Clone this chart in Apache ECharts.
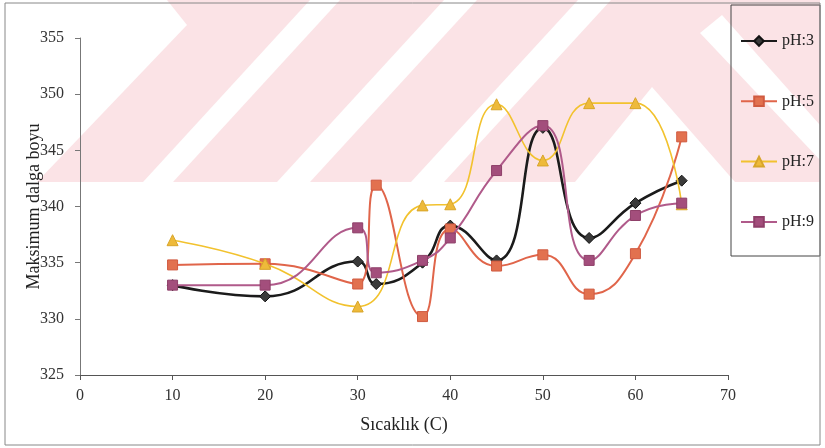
<!DOCTYPE html>
<html>
<head>
<meta charset="utf-8">
<script src="https://cdn.jsdelivr.net/npm/echarts@6/dist/echarts.min.js"></script>
<style>
  html, body { margin: 0; padding: 0; background: #ffffff; }
  #chart { width: 825px; height: 448px; }
</style>
</head>
<body>
<div id="chart"></div>
<script>
// ---- data ----
var temperatures = [10, 20, 30, 32, 37, 40, 45, 50, 55, 60, 65];
var seriesNames = ['pH:3', 'pH:5', 'pH:7', 'pH:9'];
var pH3 = [333.0, 332.0, 335.1, 333.1, 335.0, 338.3, 335.2, 347.0, 337.2, 340.3, 342.3];
var pH5 = [334.8, 334.9, 333.1, 341.9, 330.2, 338.0, 334.7, 335.7, 332.2, 335.8, 346.2];
var pH7 = [337.0, 334.9, 331.1, null, 340.1, 340.2, 349.1, 344.1, 349.2, 349.2, 340.2];
var pH9 = [333.0, 333.0, 338.1, 334.1, 335.2, 337.2, 343.2, 347.2, 335.2, 339.2, 340.3];
var xTicks = [0, 10, 20, 30, 40, 50, 60, 70];
var yTicks = [325, 330, 335, 340, 345, 350, 355];

function pairs(xs, ys) {
  return xs.map(function (x, i) { return [x, ys[i]]; });
}

var FONT = '"Liberation Serif", "DejaVu Serif", serif';
var PINK = '#fbe3e6';

// background watermark (decorative)
var wm = [
  { type: 'rect', shape: { x: 37, y: 0, width: 783, height: 182 }, style: { fill: PINK } },
  { type: 'polygon', shape: { points: [[30, 0], [167, 0], [187, 25], [37, 182], [30, 182]] }, style: { fill: '#fff' } },
  { type: 'polygon', shape: { points: [[310, 0], [340, 0], [173, 182], [143, 182]] }, style: { fill: '#fff' } },
  { type: 'polygon', shape: { points: [[444, 0], [477, 0], [310, 182], [277, 182]] }, style: { fill: '#fff' } },
  { type: 'polygon', shape: { points: [[578, 0], [611, 0], [444, 182], [411, 182]] }, style: { fill: '#fff' } },
  { type: 'polygon', shape: { points: [[575, 182], [652, 87], [735, 182]] }, style: { fill: '#fff' } },
  { type: 'polygon', shape: { points: [[700, 33], [722, 15], [820, 125], [820, 160]] }, style: { fill: '#fff' } },
  { type: 'rect', shape: { x: 731, y: 5, width: 89, height: 251 }, style: { fill: 'none', stroke: '#444', lineWidth: 1 } },
  { type: 'rect', shape: { x: 5, y: 3, width: 815, height: 442 }, style: { fill: 'none', stroke: '#888', lineWidth: 1 } }
];

var chart = echarts.init(document.getElementById('chart'), null, { renderer: 'canvas' });

var option = {
  backgroundColor: '#ffffff',
  animation: false,
  textStyle: { fontFamily: FONT },
  graphic: { elements: wm.map(function (e) { e.z = -10; e.silent = true; return e; }) },
  grid: { left: 80, right: 97, top: 38, bottom: 73, containLabel: false },
  legend: {
    orient: 'vertical',
    left: 740,
    top: 33,
    padding: 0,
    itemWidth: 36,
    itemHeight: 12,
    itemGap: 44.3,
    data: seriesNames,
    textStyle: { fontFamily: FONT, fontSize: 16, color: '#222', lineHeight: 14 }
  },
  xAxis: {
    type: 'value',
    min: xTicks[0],
    max: xTicks[xTicks.length - 1],
    interval: 10,
    name: 'Sıcaklık (C)',
    nameLocation: 'middle',
    nameGap: 41,
    nameMoveOverlap: false,
    nameTextStyle: { fontFamily: FONT, fontSize: 18, color: '#222' },
    axisLine: { show: true, lineStyle: { color: '#555', width: 1 } },
    axisTick: { show: true, inside: false, length: 5, lineStyle: { color: '#555' } },
    axisLabel: { margin: 13, fontFamily: FONT, fontSize: 16, color: '#333' },
    splitLine: { show: false }
  },
  yAxis: {
    type: 'value',
    min: yTicks[0],
    max: yTicks[yTicks.length - 1],
    interval: 5,
    name: 'Maksimum dalga boyu',
    nameLocation: 'middle',
    nameGap: 37,
    nameRotate: 90,
    nameMoveOverlap: false,
    nameTextStyle: { fontFamily: FONT, fontSize: 18, color: '#222' },
    axisLine: { show: true, lineStyle: { color: '#777', width: 1 } },
    axisTick: { show: true, inside: false, length: 5, lineStyle: { color: '#777' } },
    axisLabel: { margin: 16, fontFamily: FONT, fontSize: 16, color: '#333' },
    splitLine: { show: false }
  },
  series: [
    {
      name: 'pH:3', type: 'line', smooth: 0.5, connectNulls: true,
      data: pairs(temperatures, pH3),
      symbol: 'diamond', symbolSize: 11,
      lineStyle: { color: '#1b1b1b', width: 2.6 },
      itemStyle: { color: '#3a3a3a', borderColor: '#111', borderWidth: 1 },
      z: 2
    },
    {
      name: 'pH:5', type: 'line', smooth: 0.5, connectNulls: true,
      data: pairs(temperatures, pH5),
      symbol: 'rect', symbolSize: 10,
      lineStyle: { color: '#e0654a', width: 2 },
      itemStyle: { color: '#e2714f', borderColor: '#d05a40', borderWidth: 1 },
      z: 3
    },
    {
      name: 'pH:7', type: 'line', smooth: 0.5, connectNulls: true,
      data: pairs(temperatures, pH7),
      symbol: 'triangle', symbolSize: 11,
      lineStyle: { color: '#f2c22e', width: 1.6 },
      itemStyle: { color: '#eeba3a', borderColor: '#d8a52a', borderWidth: 1 },
      z: 4
    },
    {
      name: 'pH:9', type: 'line', smooth: 0.5, connectNulls: true,
      data: pairs(temperatures, pH9),
      symbol: 'rect', symbolSize: 10,
      lineStyle: { color: '#b05a8a', width: 2 },
      itemStyle: { color: '#a34e7c', borderColor: '#8e3f69', borderWidth: 1 },
      z: 5
    }
  ]
};

chart.setOption(option);
</script>
</body>
</html>
